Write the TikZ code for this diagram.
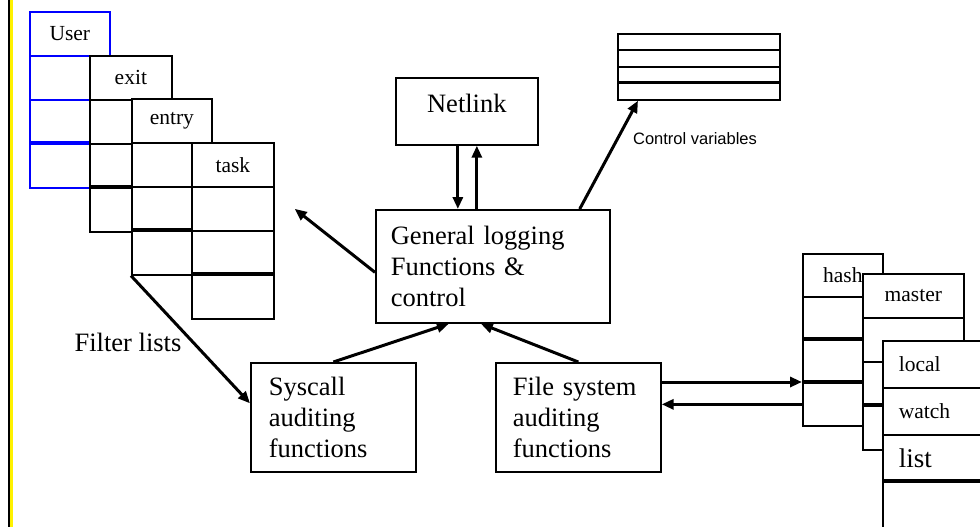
\documentclass[tikz,border=0pt]{standalone}
\usepackage{fontspec}
\setmainfont{Liberation Serif}
\newfontfamily\labelsans{Liberation Sans}
\usetikzlibrary{arrows.meta}

\begin{document}
\begin{tikzpicture}[x=1pt,y=-1pt]
\tikzset{
  tabcell/.style={draw,line width=1.7pt,fill=white,anchor=north west,inner sep=0pt,minimum height=44pt,font=\fontsize{21.5}{24}\selectfont},
  usercell/.style={tabcell,draw=blue,minimum width=80pt},
  exitcell/.style={tabcell,minimum width=82pt},
  entrycell/.style={tabcell,minimum width=80pt},
  taskcell/.style={tabcell,minimum width=82pt},
  hashcell/.style={tabcell,minimum width=80pt,minimum height=43pt},
  mastercell/.style={tabcell,minimum width=101pt},
  localcell/.style={tabcell,minimum width=120pt,minimum height=47pt,text width=88pt,inner xsep=16pt,align=left},
  ctrlcell/.style={tabcell,minimum width=162pt,minimum height=16.5pt},
  funcbox/.style={draw,line width=1.7pt,fill=white,anchor=north west,align=left,font=\fontsize{26.5}{31}\selectfont},
  directed/.style={-{Triangle[length=12pt,width=10pt]},line width=3pt},
  thickrule/.style={line width=3.6pt}
}
\clip (0,0) rectangle (980,527);
\fill[white] (0,0) rectangle (980,527);
\fill[black] (8,0) rectangle (10,527);
\fill[yellow] (10,0) rectangle (12.5,527);
% filter lists
\node[usercell] (user0) at (29,11) {User};
\node[usercell] (user1) at (29,55) {};
\node[usercell] (user2) at (29,99) {};
\node[usercell] (user3) at (29,143) {};
\draw[thickrule,blue] (user3.north west) -- (user3.north east);
\node[exitcell] (exit0) at (89,55) {exit};
\node[exitcell] (exit1) at (89,99) {};
\node[exitcell] (exit2) at (89,143) {};
\node[exitcell] (exit3) at (89,187) {};
\draw[thickrule] (exit3.north west) -- (exit3.north east);
\node[entrycell] (entry0) at (131,98) {entry};
\node[entrycell] (entry1) at (131,142) {};
\node[entrycell] (entry2) at (131,186) {};
\node[entrycell] (entry3) at (131,230) {};
\draw[thickrule] (entry3.north west) -- (entry3.north east);
\node[taskcell] (task0) at (191,142) {task};
\node[taskcell] (task1) at (191,186) {};
\node[taskcell] (task2) at (191,230) {};
\node[taskcell] (task3) at (191,274) {};
\draw[thickrule] (task3.north west) -- (task3.north east);
% control variables
\node[ctrlcell] (ctrl0) at (617,33) {};
\node[ctrlcell] (ctrl1) at (617,49.5) {};
\node[ctrlcell] (ctrl2) at (617,66) {};
\node[ctrlcell] (ctrl3) at (617,82.5) {};
\draw[thickrule] (ctrl3.north west) -- (ctrl3.north east);
% watch lists
\node[hashcell] (hash0) at (802,253) {hash};
\node[hashcell] (hash1) at (802,296) {};
\node[hashcell] (hash2) at (802,339) {};
\node[hashcell] (hash3) at (802,382) {};
\draw[thickrule] (hash2.north west) -- (hash2.north east);
\draw[thickrule] (hash3.north west) -- (hash3.north east);
\node[mastercell] (master0) at (862,273) {master};
\node[mastercell] (master1) at (862,317) {};
\node[mastercell] (master2) at (862,361) {};
\node[mastercell] (master3) at (862,405) {};
\draw[thickrule] (master3.north west) -- (master3.north east);
\node[localcell] (local0) at (882,340) {local};
\node[localcell] (local1) at (882,387) {watch};
\node[localcell,font=\fontsize{27}{30}\selectfont] (local2) at (882,434) {list};
\node[localcell,minimum height=80pt] (local3) at (882,481) {};
\draw[thickrule] (local3.north west) -- (local3.north east);
% function boxes
\node[funcbox,minimum width=142pt,minimum height=67pt,text depth=17pt] (netlink) at (395,77) {Netlink};
\node[funcbox,text width=204pt,inner xsep=15pt,minimum height=113pt] (general) at (375,209)
  {General logging\\Functions \&\\control};
\node[funcbox,text width=129pt,inner xsep=18pt,minimum height=109pt] (syscall) at (250,362)
  {Syscall\\auditing\\functions};
\node[funcbox,text width=131pt,inner xsep=17pt,minimum height=109pt] (filesys) at (495,362)
  {File system\\auditing\\functions};
\node[font=\fontsize{26.5}{30}\selectfont] (filterlbl) at (128,342) {Filter lists};
\node[font=\labelsans\fontsize{16.5}{18}\selectfont] (ctrllbl) at (695,139) {Control variables};
% connectors
\draw[directed] ([xshift=-9pt]netlink.south) -- ([xshift=-9pt]netlink.south |- general.north);
\draw[directed] ([xshift=10pt]netlink.south |- general.north) -- ([xshift=10pt]netlink.south);
\draw[directed] ([xshift=-31pt]general.north east) -- ([xshift=21pt]ctrl3.south west);
\draw[directed] ([yshift=-6pt]general.west) -- ([xshift=20pt]task1.east);
\draw[directed] (syscall.north) -- ([xshift=-44pt]general.south);
\draw[directed] (filesys.north) -- ([xshift=-12pt]general.south);
\draw[directed] (entry3.south west) -- ([yshift=14pt]syscall.west);
\draw[directed] (filesys.east |- hash3.north west) -- (hash3.north west);
\draw[directed] (hash3.west) -- (hash3.west -| filesys.east);
\end{tikzpicture}
\end{document}
